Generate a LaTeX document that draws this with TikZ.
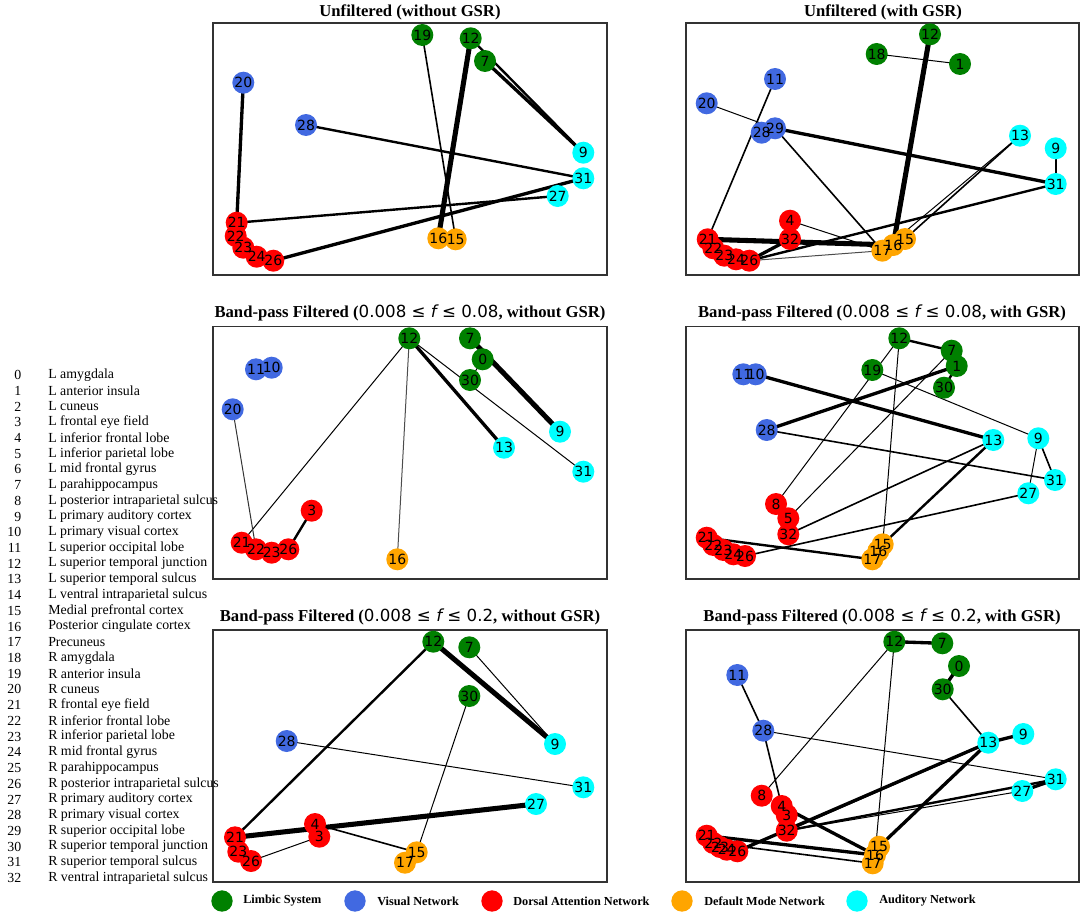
\documentclass[tikz,border=0pt]{standalone}
\usepackage{fontspec}
\setmainfont{Liberation Serif}
\newfontfamily\dejavu{DejaVu Sans}
\pgfdeclarelayer{background}
\pgfdeclarelayer{fg}
\pgfsetlayers{background,main,fg}

\definecolor{limbicgreen}{HTML}{008000}
\definecolor{visualblue}{HTML}{4169E1}
\definecolor{dorsalred}{HTML}{FF0000}
\definecolor{dmnorange}{HTML}{FFA500}
\definecolor{audcyan}{HTML}{00FFFF}

\tikzset{
  roi/.style={circle, inner sep=0pt, minimum size=16.5pt},
  roilabel/.style={font=\dejavu\fontsize{10.5}{10.5}\selectfont, inner sep=0pt},
  limbic/.style={fill=limbicgreen},
  visual/.style={fill=visualblue},
  dorsal/.style={fill=dorsalred},
  dmn/.style={fill=dmnorange},
  auditory/.style={fill=audcyan},
  frame/.style={draw=black!80, line width=0.9pt},
  paneltitle/.style={font=\fontsize{12.5}{14}\selectfont\bfseries, inner sep=0pt},
  roinum/.style={font=\fontsize{10.4}{12}\selectfont, anchor=east, inner sep=0pt},
  roiname/.style={font=\fontsize{10.4}{12}\selectfont, anchor=west, inner sep=0pt},
  legendtext/.style={font=\fontsize{9.2}{10}\selectfont\bfseries, anchor=west, inner sep=0pt},
  w1/.style={line width=0.75pt},
  w2/.style={line width=1.2pt},
  w3/.style={line width=1.8pt},
  w4/.style={line width=2.5pt},
  w5/.style={line width=3.8pt}
}

% #1 panel, #2 region number, #3 network, #4 position
\newcommand{\roi}[4]{%
  \node[roi,#3] (#1#2) at (#4) {};
  \begin{pgfonlayer}{fg}\node[roilabel] (#1#2l) at (#4) {#2};\end{pgfonlayer}}

\begin{document}
\begin{tikzpicture}[x=0.75pt, y=-0.75pt]
\useasboundingbox (0,0) rectangle (1084,917);

%%%%% FRAMES AND TITLES %%%%%
\draw[frame] (213,23) rectangle (607,275);
\draw[frame] (686,23) rectangle (1079,275);
\draw[frame] (213,326.5) rectangle (607,579);
\draw[frame] (686,326.5) rectangle (1079,579);
\draw[frame] (213,630) rectangle (607,882);
\draw[frame] (686,630) rectangle (1079,882);

\node[paneltitle] (t1) at (410,12) {Unfiltered (without GSR)};
\node[paneltitle] (t2) at (883,12) {Unfiltered (with GSR)};
\node[paneltitle] (t3) at (410,313) {Band-pass Filtered ({\mdseries\dejavu 0.008 ≤ {\itshape f} ≤ 0.08}, without GSR)};
\node[paneltitle] (t4) at (882,313) {Band-pass Filtered ({\mdseries\dejavu 0.008 ≤ {\itshape f} ≤ 0.08}, with GSR)};
\node[paneltitle] (t5) at (410,617) {Band-pass Filtered ({\mdseries\dejavu 0.008 ≤ {\itshape f} ≤ 0.2}, without GSR)};
\node[paneltitle] (t6) at (882,617) {Band-pass Filtered ({\mdseries\dejavu 0.008 ≤ {\itshape f} ≤ 0.2}, with GSR)};

%%%%% UNFILTERED, WITHOUT GSR %%%%%
\roi{ua}{19}{limbic}{422.3,35}
\roi{ua}{12}{limbic}{470.7,38.3}
\roi{ua}{7}{limbic}{485,61}
\roi{ua}{20}{visual}{243.3,82.7}
\roi{ua}{28}{visual}{306,125}
\roi{ua}{9}{auditory}{583.3,152.7}
\roi{ua}{31}{auditory}{583.3,178.3}
\roi{ua}{27}{auditory}{557.7,196}
\roi{ua}{21}{dorsal}{236.7,222.7}
\roi{ua}{22}{dorsal}{235.7,236}
\roi{ua}{23}{dorsal}{243.3,247.7}
\roi{ua}{24}{dorsal}{256.7,256.7}
\roi{ua}{26}{dorsal}{273.3,260.7}
\roi{ua}{16}{dmn}{438.3,238.3}
\roi{ua}{15}{dmn}{455.7,239.3}

\begin{pgfonlayer}{background}
\draw[w4] (ua20.center) -- (ua21.center);
\draw[w5] (ua12.center) -- (ua16.center);
\draw[w3] (ua12.center) -- (ua9.center);
\draw[w4] (ua7.center) -- (ua9.center);
\draw[w2] (ua19.center) -- (ua15.center);
\draw[w3] (ua28.center) -- (ua31.center);
\draw[w3] (ua21.center) -- (ua27.center);
\draw[w4] (ua26.center) -- (ua31.center);
\end{pgfonlayer}

%%%%% UNFILTERED, WITH GSR %%%%%
\roi{ub}{12}{limbic}{930,34.3}
\roi{ub}{18}{limbic}{876.7,54}
\roi{ub}{1}{limbic}{960,64}
\roi{ub}{11}{visual}{775,79}
\roi{ub}{20}{visual}{706.7,103.3}
\roi{ub}{28}{visual}{761.7,132.7}
\roi{ub}{29}{visual}{775,128.3}
\roi{ub}{13}{auditory}{1020,135.7}
\roi{ub}{9}{auditory}{1055.7,148.3}
\roi{ub}{31}{auditory}{1055.7,184}
\roi{ub}{4}{dorsal}{790,220.7}
\roi{ub}{32}{dorsal}{790,239}
\roi{ub}{21}{dorsal}{707.7,239.3}
\roi{ub}{22}{dorsal}{713.3,248.3}
\roi{ub}{23}{dorsal}{724.3,255.7}
\roi{ub}{24}{dorsal}{736,259.3}
\roi{ub}{26}{dorsal}{749.3,260.7}
\roi{ub}{17}{dmn}{882.3,250.7}
\roi{ub}{16}{dmn}{893.3,245}
\roi{ub}{15}{dmn}{905,239}

\begin{pgfonlayer}{background}
\draw[w1] (ub18.center) -- (ub1.center);
\draw[w5] (ub12.center) -- (ub16.center);
\draw[w1] (ub20.center) -- (ub29.center);
\draw[w2] (ub11.center) -- (ub21.center);
\draw[w4] (ub29.center) -- (ub31.center);
\draw[w2] (ub29.center) -- (ub17.center);
\draw[w2] (ub13.center) -- (ub15.center);
\draw[w1] (ub13.center) -- (ub17.center);
\draw[w3] (ub9.center) -- (ub31.center);
\draw[w3] (ub26.center) -- (ub31.center);
\draw[w4] (ub26.center) -- (ub32.center);
\draw[w5] (ub21.center) -- (ub16.center);
\draw[w1] (ub4.center) -- (ub17.center);
\draw[w1, black!70] (ub26.center) -- (ub17.center);
\end{pgfonlayer}

%%%%% 0.008-0.08, WITHOUT GSR %%%%%
\roi{la}{12}{limbic}{409.3,338.3}
\roi{la}{7}{limbic}{470,338.3}
\roi{la}{0}{limbic}{482.7,359.3}
\roi{la}{30}{limbic}{470,380}
\roi{la}{11}{visual}{256,369.3}
\roi{la}{10}{visual}{271.7,367.7}
\roi{la}{20}{visual}{232.7,409.3}
\roi{la}{9}{auditory}{560,431.7}
\roi{la}{13}{auditory}{504,447.7}
\roi{la}{31}{auditory}{583.3,471.7}
\roi{la}{3}{dorsal}{311.7,510.7}
\roi{la}{21}{dorsal}{241.7,542.7}
\roi{la}{22}{dorsal}{256,549.3}
\roi{la}{23}{dorsal}{271.7,552.7}
\roi{la}{26}{dorsal}{288.3,549.3}
\roi{la}{16}{dmn}{397.3,559.3}

\begin{pgfonlayer}{background}
\draw[w1] (la12.center) -- (la21.center);
\draw[w1, black!70] (la12.center) -- (la16.center);
\draw[w4] (la12.center) -- (la13.center);
\draw[w1] (la12.center) -- (la31.center);
\draw[w5] (la7.center) -- (la9.center);
\draw[w1] (la0.center) -- (la30.center);
\draw[w1, black!80] (la20.center) -- (la22.center);
\draw[w3] (la3.center) -- (la26.center);
\end{pgfonlayer}

%%%%% 0.008-0.08, WITH GSR %%%%%
\roi{lb}{12}{limbic}{899.3,338.3}
\roi{lb}{7}{limbic}{951.7,350.7}
\roi{lb}{1}{limbic}{956.7,366}
\roi{lb}{19}{limbic}{872.3,370}
\roi{lb}{30}{limbic}{944,387.7}
\roi{lb}{11}{visual}{743.3,374.3}
\roi{lb}{10}{visual}{755.7,374.3}
\roi{lb}{28}{visual}{766.7,430}
\roi{lb}{13}{auditory}{993.3,440}
\roi{lb}{9}{auditory}{1038.3,438.3}
\roi{lb}{31}{auditory}{1055,480}
\roi{lb}{27}{auditory}{1028.3,493.3}
\roi{lb}{8}{dorsal}{776,504}
\roi{lb}{5}{dorsal}{788.3,518.3}
\roi{lb}{32}{dorsal}{788.3,534.3}
\roi{lb}{21}{dorsal}{706.7,537.7}
\roi{lb}{22}{dorsal}{713.3,545}
\roi{lb}{23}{dorsal}{723.3,550}
\roi{lb}{24}{dorsal}{733.3,554.3}
\roi{lb}{26}{dorsal}{745,556}
\roi{lb}{17}{dmn}{872.3,559.3}
\roi{lb}{16}{dmn}{878.3,551}
\roi{lb}{15}{dmn}{882.7,544.3}

\begin{pgfonlayer}{background}
\draw[w3] (lb12.center) -- (lb7.center);
\draw[w3] (lb1.center) -- (lb30.center);
\draw[w4] (lb1.center) -- (lb28.center);
\draw[w4] (lb10.center) -- (lb13.center);
\draw[w1] (lb19.center) -- (lb9.center);
\draw[w1] (lb12.center) -- (lb8.center);
\draw[w1] (lb7.center) -- (lb5.center);
\draw[w1] (lb12.center) -- (lb15.center);
\draw[w2] (lb28.center) -- (lb31.center);
\draw[w2] (lb9.center) -- (lb31.center);
\draw[w1] (lb9.center) -- (lb27.center);
\draw[w2] (lb13.center) -- (lb32.center);
\draw[w3] (lb13.center) -- (lb15.center);
\draw[w2] (lb27.center) -- (lb26.center);
\draw[w3] (lb21.center) -- (lb17.center);
\end{pgfonlayer}

%%%%% 0.008-0.2, WITHOUT GSR %%%%%
\roi{wa}{12}{limbic}{433.3,641.7}
\roi{wa}{7}{limbic}{469.3,647.3}
\roi{wa}{30}{limbic}{469.3,696}
\roi{wa}{28}{visual}{286.7,741}
\roi{wa}{9}{auditory}{555,744}
\roi{wa}{31}{auditory}{583.3,787.3}
\roi{wa}{27}{auditory}{536,804}
\roi{wa}{4}{dorsal}{315,824}
\roi{wa}{3}{dorsal}{319.3,836.7}
\roi{wa}{21}{dorsal}{235,837.3}
\roi{wa}{23}{dorsal}{238.3,851.7}
\roi{wa}{26}{dorsal}{251,861}
\roi{wa}{15}{dmn}{416.7,852.3}
\roi{wa}{17}{dmn}{405,862.7}

\begin{pgfonlayer}{background}
\draw[w3] (wa12.center) -- (wa21.center);
\draw[w5] (wa12.center) -- (wa9.center);
\draw[w1] (wa7.center) -- (wa9.center);
\draw[w1] (wa30.center) -- (wa15.center);
\draw[w1] (wa28.center) -- (wa31.center);
\draw[w5] (wa21.center) -- (wa27.center);
\draw[w2] (wa4.center) -- (wa15.center);
\draw[w1] (wa3.center) -- (wa26.center);
\end{pgfonlayer}

%%%%% 0.008-0.2, WITH GSR %%%%%
\roi{wb}{12}{limbic}{894.3,641.7}
\roi{wb}{7}{limbic}{942.3,643.3}
\roi{wb}{0}{limbic}{959,666}
\roi{wb}{30}{limbic}{942.7,689.3}
\roi{wb}{11}{visual}{737.3,675}
\roi{wb}{28}{visual}{763.3,730.7}
\roi{wb}{13}{auditory}{988.3,742.7}
\roi{wb}{9}{auditory}{1023.3,734}
\roi{wb}{31}{auditory}{1055.7,779.3}
\roi{wb}{27}{auditory}{1022.3,791}
\roi{wb}{8}{dorsal}{761.7,795.7}
\roi{wb}{4}{dorsal}{781.7,806}
\roi{wb}{3}{dorsal}{786.7,815}
\roi{wb}{32}{dorsal}{786.7,830.7}
\roi{wb}{21}{dorsal}{706.7,835.7}
\roi{wb}{22}{dorsal}{713.3,843}
\roi{wb}{23}{dorsal}{720,847}
\roi{wb}{24}{dorsal}{726.7,849.7}
\roi{wb}{26}{dorsal}{737.3,851.3}
\roi{wb}{17}{dmn}{872.7,863.3}
\roi{wb}{16}{dmn}{875,855}
\roi{wb}{15}{dmn}{879,846.7}

\begin{pgfonlayer}{background}
\draw[w4] (wb12.center) -- (wb7.center);
\draw[w4] (wb0.center) -- (wb30.center);
\draw[w2] (wb30.center) -- (wb13.center);
\draw[w1] (wb12.center) -- (wb8.center);
\draw[w1] (wb12.center) -- (wb16.center);
\draw[w2] (wb11.center) -- (wb28.center);
\draw[w1] (wb28.center) -- (wb31.center);
\draw[w2] (wb28.center) -- (wb4.center);
\draw[w4] (wb13.center) -- (wb9.center);
\draw[w4] (wb13.center) -- (wb26.center);
\draw[w3] (wb13.center) -- (wb32.center);
\draw[w4] (wb13.center) -- (wb15.center);
\draw[w4] (wb31.center) -- (wb27.center);
\draw[w3] (wb31.center) -- (wb32.center);
\draw[w1] (wb27.center) -- (wb32.center);
\draw[w4] (wb4.center) -- (wb16.center);
\draw[w4] (wb21.center) -- (wb16.center);
\draw[w2] (wb22.center) -- (wb17.center);
\end{pgfonlayer}

%%%%% REGION LIST %%%%%
\foreach \i/\t in {0/L amygdala, 1/L anterior insula, 2/L cuneus, 3/L frontal eye field,
  4/L inferior frontal lobe, 5/L inferior parietal lobe, 6/L mid frontal gyrus,
  7/L parahippocampus, 8/L posterior intraparietal sulcus, 9/L primary auditory cortex,
  10/L primary visual cortex, 11/L superior occipital lobe, 12/L superior temporal junction,
  13/L superior temporal sulcus, 14/L ventral intraparietal sulcus, 15/Medial prefrontal cortex,
  16/Posterior cingulate cortex, 17/Precuneus, 18/R amygdala, 19/R anterior insula,
  20/R cuneus, 21/R frontal eye field, 22/R inferior frontal lobe, 23/R inferior parietal lobe,
  24/R mid frontal gyrus, 25/R parahippocampus, 26/R posterior intraparietal sulcus,
  27/R primary auditory cortex, 28/R primary visual cortex, 29/R superior occipital lobe,
  30/R superior temporal junction, 31/R superior temporal sulcus, 32/R ventral intraparietal sulcus}
{
  \node[roinum] (k\i) at (21.5,{375+15.72*\i}) {\i};
  \node[roiname] (n\i) at (48,{375+15.72*\i}) {\t};
}

%%%%% LEGEND %%%%%
\node[roi, limbic, minimum size=16pt] (g1) at (222,901) {};
\node[legendtext] (g1t) at (243,901) {Limbic System};
\node[roi, visual, minimum size=16pt] (g2) at (355,901) {};
\node[legendtext] (g2t) at (377,901) {Visual Network};
\node[roi, dorsal, minimum size=16pt] (g3) at (492,901) {};
\node[legendtext] (g3t) at (513,901) {Dorsal Attention Network};
\node[roi, dmn, minimum size=16pt] (g4) at (682,901) {};
\node[legendtext] (g4t) at (704,901) {Default Mode Network};
\node[roi, auditory, minimum size=16pt] (g5) at (857,901) {};
\node[legendtext] (g5t) at (879,901) {Auditory Network};

\end{tikzpicture}
\end{document}
